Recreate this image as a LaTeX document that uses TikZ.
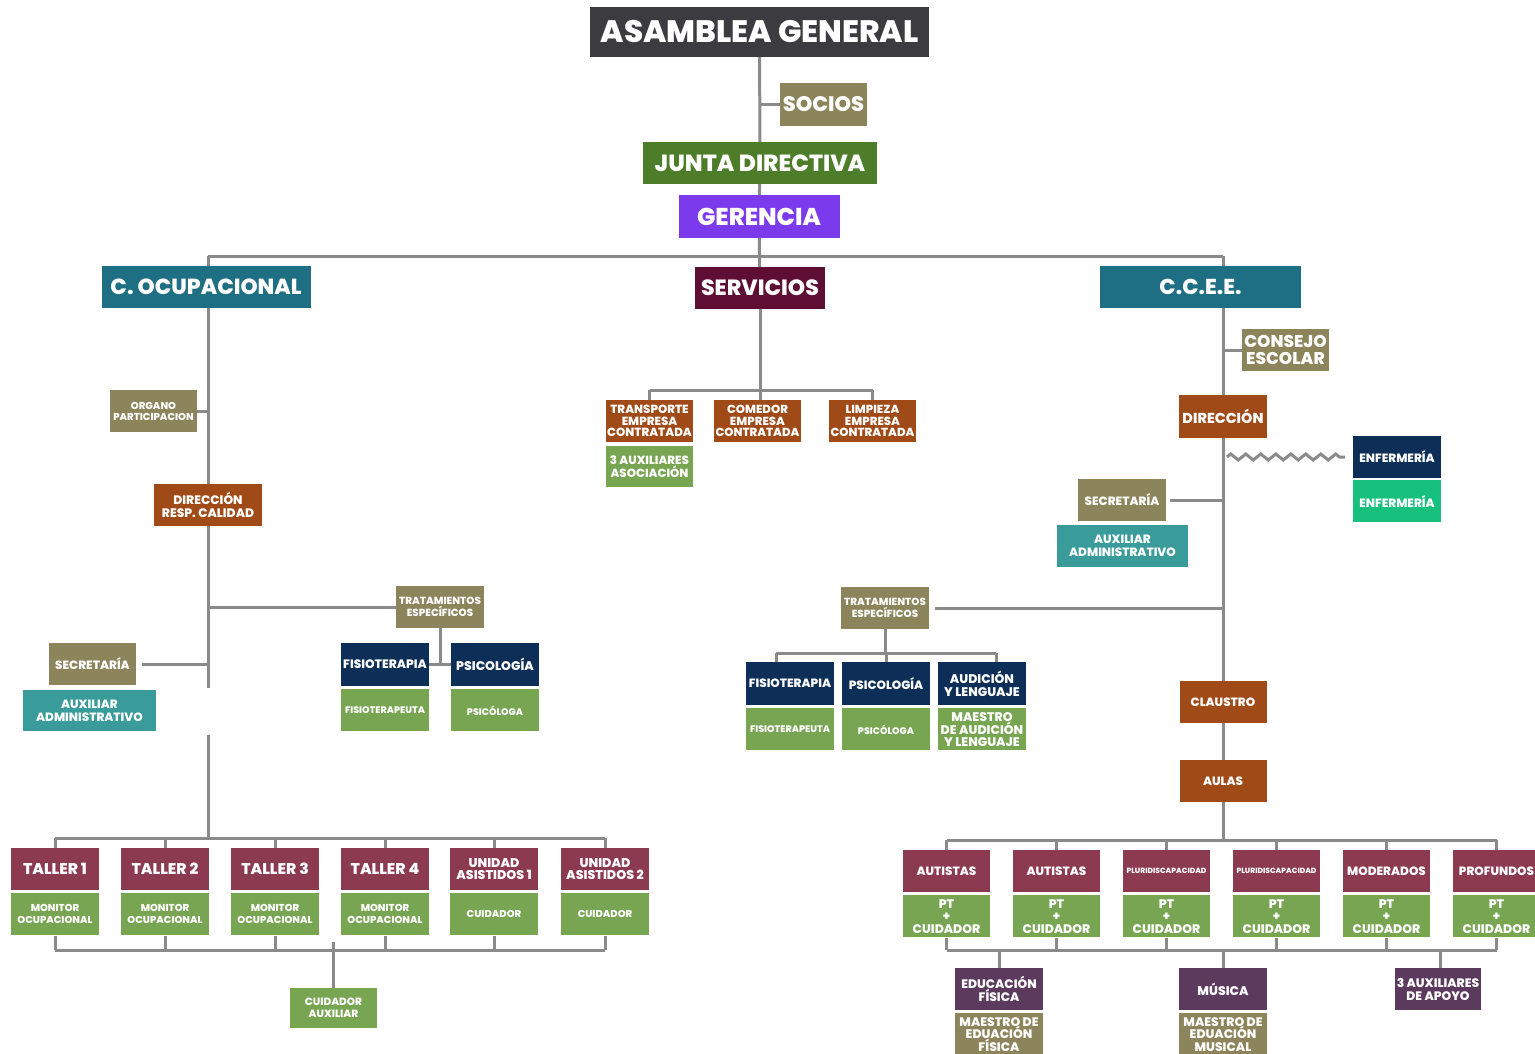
\documentclass[tikz,border=0pt]{standalone}
\usepackage{fontspec}
\setmainfont{Poppins}[BoldFont={* ExtraBold}]
\usetikzlibrary{positioning,decorations.pathmorphing}

\definecolor{cDark}{HTML}{3C3C40}
\definecolor{cOlive}{HTML}{8C845A}
\definecolor{cJunta}{HTML}{4E7D2A}
\definecolor{cPurple}{HTML}{7C3AED}
\definecolor{cTeal}{HTML}{1E6F83}
\definecolor{cWine}{HTML}{5E0E34}
\definecolor{cBrown}{HTML}{A04A17}
\definecolor{cGreen}{HTML}{78A552}
\definecolor{cNavy}{HTML}{0D2F57}
\definecolor{cAqua}{HTML}{3A9B9B}
\definecolor{cRed}{HTML}{8B3A4F}
\definecolor{cPlum}{HTML}{5C3A5E}
\definecolor{cMint}{HTML}{18C07D}
\definecolor{cLine}{HTML}{8A8A8A}

\newcommand\fsz[2]{\fontsize{#1}{#2}\selectfont}

\tikzset{
  box/.style={rectangle, inner sep=1pt, align=center, text=white,
    minimum width=88pt, minimum height=42pt, font=\bfseries\fsz{12}{13}},
  darkbox/.style={box, fill=cDark},
  olivebox/.style={box, fill=cOlive},
  juntabox/.style={box, fill=cJunta},
  purplebox/.style={box, fill=cPurple},
  tealbox/.style={box, fill=cTeal},
  winebox/.style={box, fill=cWine},
  brownbox/.style={box, fill=cBrown},
  greenbox/.style={box, fill=cGreen},
  navybox/.style={box, fill=cNavy},
  aquabox/.style={box, fill=cAqua},
  redbox/.style={box, fill=cRed},
  plumbox/.style={box, fill=cPlum},
  mintbox/.style={box, fill=cMint},
  link/.style={draw=cLine, line width=3pt},
  zig/.style={draw=cLine, line width=3pt,
    decorate, decoration={zigzag, segment length=15pt, amplitude=3pt}}
}

\begin{document}
\begin{tikzpicture}[x=1pt, y=-1pt]
  \useasboundingbox (0,0) rectangle (1535,1054);

  % top of the chart
  \node[darkbox, minimum width=339pt, minimum height=50pt, font=\bfseries\fsz{31}{32}] (asamblea) at (759.5,32) {ASAMBLEA GENERAL};
  \node[olivebox, minimum width=87pt, minimum height=43pt, font=\bfseries\fsz{21}{22}] (socios) at (823.5,104.5) {SOCIOS};
  \node[juntabox, minimum width=234pt, font=\bfseries\fsz{23.3}{24}] (junta) at (760,163) {JUNTA DIRECTIVA};
  \node[purplebox, minimum width=161pt, minimum height=43pt, font=\bfseries\fsz{24.3}{25}] (gerencia) at (759,216.5) {GERENCIA};

  \node[tealbox, minimum width=209pt, font=\bfseries\fsz{21.8}{22}] (ocup) at (206,287) {C. OCUPACIONAL};
  \node[winebox, minimum width=130pt, font=\bfseries\fsz{22}{22}] (servicios) at (760,288) {SERVICIOS};
  \node[tealbox, minimum width=201pt, font=\bfseries\fsz{21.5}{22}] (ccee) at (1200.5,287) {C.C.E.E.};

  \coordinate (barL) at (208,256);
  \coordinate (barR) at (1223,256);

  \draw[link] (asamblea) -- (junta);
  \draw[link] (socios.west) -- (socios.west -| asamblea.south);
  \draw[link] (junta) -- (gerencia);
  \draw[link] (gerencia) -- (servicios);
  \draw[link] (barL) -- (barR);
  \draw[link] (barL) -- (barL |- ocup.north);
  \draw[link] (barR) -- (barR |- ccee.north);

  % C. Ocupacional
  \node[olivebox, minimum width=87pt, font=\bfseries\fsz{10}{11}] (organo) at (153.5,411) {ORGANO\\PARTICIPACION};
  \node[brownbox, minimum width=108pt, font=\bfseries\fsz{12.3}{13}] (dirresp) at (208,505) {DIRECCIÓN\\RESP. CALIDAD};
  \node[olivebox, font=\bfseries\fsz{10.3}{12}] (tratL) at (440,607) {TRATAMIENTOS\\ESPECÍFICOS};
  \node[olivebox, minimum width=87pt] (secL) at (92.5,664) {SECRETARÍA};
  \node[aquabox, minimum width=133pt, minimum height=41pt] (auxL) at (89.5,710.5) {AUXILIAR\\ADMINISTRATIVO};
  \node[navybox, minimum height=43pt, font=\bfseries\fsz{12.2}{13}] (fisioL) at (385,664.5) {FISIOTERAPIA};
  \node[greenbox, font=\bfseries\fsz{9.5}{10}, below=3pt of fisioL] (terapL) {FISIOTERAPEUTA};
  \node[navybox, minimum height=43pt, font=\bfseries\fsz{12.5}{13}] (psicoL) at (495,664.5) {PSICOLOGÍA};
  \node[greenbox, font=\bfseries\fsz{9.5}{10}, below=3pt of psicoL] (logaL) {PSICÓLOGA};

  \coordinate (gapT) at (208,688);
  \coordinate (gapB) at (208,735);
  \coordinate (tbar) at (0,838);
  \coordinate (bbarL) at (0,950);

  \draw[link] (ocup.south -| barL) -- (dirresp.north);
  \draw[link] (organo.east) -- (organo.east -| barL);
  \draw[link] (dirresp.south) -- (gapT);
  \draw[link] (tratL.west) -- (tratL.west -| gapT);
  \draw[link] ([xshift=6pt]secL.east) -- (secL.east -| gapT);
  \draw[link] (tratL.south) -- (tratL.south |- fisioL.east);
  \draw[link] (fisioL.east) -- (psicoL.west);

  % talleres
  \foreach \n/\x/\t in {t1/55/TALLER 1, t2/165/TALLER 2, t3/275/TALLER 3, t4/385/TALLER 4}{
    \node[redbox, font=\bfseries\fsz{15.5}{16}] (\n) at (\x,869) {\t};
    \node[greenbox, font=\bfseries\fsz{10}{12}, below=3pt of \n] (m\n) {MONITOR\\OCUPACIONAL};
  }
  \node[redbox, font=\bfseries\fsz{12.7}{12}] (ua1) at (494,869) {UNIDAD\\ASISTIDOS 1};
  \node[greenbox, font=\bfseries\fsz{10}{12}, below=3pt of ua1] (mua1) {CUIDADOR};
  \node[redbox, font=\bfseries\fsz{12.7}{12}] (ua2) at (605,869) {UNIDAD\\ASISTIDOS 2};
  \node[greenbox, font=\bfseries\fsz{10}{12}, below=3pt of ua2] (mua2) {CUIDADOR};
  \node[greenbox, minimum width=87pt, minimum height=40pt, font=\bfseries\fsz{10.5}{12}] (cuidaux) at (333.5,1008) {CUIDADOR\\AUXILIAR};

  \draw[link] (gapB) -- (gapB |- tbar);
  \draw[link] (t1.north |- tbar) -- (ua2.north |- tbar);
  \draw[link] (mt1.south |- bbarL) -- (mua2.south |- bbarL);
  \foreach \n in {t1,t2,t3,t4,ua1,ua2}{
    \draw[link] (\n.north |- tbar) -- (\n.north);
    \draw[link] (m\n.south) -- (m\n.south |- bbarL);
  }
  \draw[link] ([yshift=8pt]cuidaux.north |- bbarL) -- (cuidaux.north);

  % servicios
  \node[brownbox, minimum width=87pt, font=\bfseries\fsz{11.8}{11.5}] (transp) at (649.5,421) {TRANSPORTE\\EMPRESA\\CONTRATADA};
  \node[greenbox, minimum width=87pt, minimum height=41pt, font=\bfseries\fsz{11.8}{11.5}, below=4pt of transp] (auxasoc) {3 AUXILIARES\\ASOCIACIÓN};
  \node[brownbox, minimum width=87pt, font=\bfseries\fsz{11.7}{11.5}] (comedor) at (757.5,421) {COMEDOR\\EMPRESA\\CONTRATADA};
  \node[brownbox, minimum width=87pt, font=\bfseries\fsz{11.7}{11.5}] (limp) at (872.5,421) {LIMPIEZA\\EMPRESA\\CONTRATADA};

  \coordinate (sbar) at (0,390);
  \draw[link] (servicios.south) -- (servicios.south |- comedor.north);
  \draw[link] (transp.north |- sbar) -- (limp.north |- sbar);
  \draw[link] (transp.north |- sbar) -- (transp.north);
  \draw[link] (limp.north |- sbar) -- (limp.north);

  % C.C.E.E.
  \node[olivebox, minimum width=87pt, font=\bfseries\fsz{17}{17}] (consejo) at (1285.5,350) {CONSEJO\\ESCOLAR};
  \node[brownbox, minimum height=43pt, font=\bfseries\fsz{14.4}{14}] (direc) at (1223,416.5) {DIRECCIÓN};
  \node[navybox] (enf1) at (1397,457) {ENFERMERÍA};
  \node[mintbox, below=2pt of enf1] (enf2) {ENFERMERÍA};
  \node[olivebox] (secR) at (1122,500) {SECRETARÍA};
  \node[aquabox, minimum width=131pt] (auxR) at (1122.5,546) {AUXILIAR\\ADMINISTRATIVO};
  \node[olivebox, font=\bfseries\fsz{10.3}{12}] (tratR) at (885,608) {TRATAMIENTOS\\ESPECÍFICOS};
  \node[navybox, minimum height=43pt] (fisioR) at (790,683.5) {FISIOTERAPIA};
  \node[greenbox, font=\bfseries\fsz{9.5}{10}, below=3pt of fisioR] (terapR) {FISIOTERAPEUTA};
  \node[navybox, minimum height=43pt] (psicoR) at (886,683.5) {PSICOLOGÍA};
  \node[greenbox, font=\bfseries\fsz{9.5}{10}, below=3pt of psicoR] (logaR) {PSICÓLOGA};
  \node[navybox, minimum height=43pt, font=\bfseries\fsz{12.5}{13}] (audR) at (982,683.5) {AUDICIÓN\\Y LENGUAJE};
  \node[greenbox, font=\bfseries\fsz{12.5}{12}, below=3pt of audR] (maeAud) {MAESTRO\\DE AUDICIÓN\\Y LENGUAJE};
  \node[brownbox, minimum width=87pt] (claustro) at (1223,702) {CLAUSTRO};
  \node[brownbox, minimum width=87pt] (aulas) at (1223,781) {AULAS};

  \coordinate (rbar) at (0,653);
  \draw[link] (ccee.south -| barR) -- (direc.north);
  \draw[link] (consejo.west) -- (consejo.west -| barR);
  \draw[link] (direc.south) -- (claustro.north);
  \draw[zig] ([xshift=4pt]direc.south |- enf1.west) -- ([xshift=-8pt]enf1.west);
  \draw[link] ([xshift=4pt]secR.east) -- (secR.east -| barR);
  \draw[link] ([xshift=6pt]tratR.east) -- (tratR.east -| barR);
  \draw[link] (tratR.south) -- (tratR.south |- rbar);
  \draw[link] ([xshift=-14pt]fisioR.north |- rbar) -- ([xshift=14pt]audR.north |- rbar);
  \draw[link] ([xshift=-14pt]fisioR.north |- rbar) -- ([xshift=-14pt]fisioR.north);
  \draw[link] (psicoR.north |- rbar) -- (psicoR.north);
  \draw[link] ([xshift=14pt]audR.north |- rbar) -- ([xshift=14pt]audR.north);
  \draw[link] (claustro) -- (aulas);

  % aulas
  \foreach \n/\x/\t/\f in {a1/946.5/AUTISTAS/12, a2/1056.5/AUTISTAS/12,
      a3/1166.5/PLURIDISCAPACIDAD/7.5, a4/1276.5/PLURIDISCAPACIDAD/7.5,
      a5/1386.5/MODERADOS/12, a6/1496.5/PROFUNDOS/12}{
    \node[redbox, minimum width=87pt, font=\bfseries\fsz{\f}{12}] (\n) at (\x,871) {\t};
    \node[greenbox, minimum width=87pt, font=\bfseries\fsz{12.4}{12.5}, below=3pt of \n] (p\n) {PT\\+\\CUIDADOR};
  }
  \node[plumbox, font=\bfseries\fsz{12.3}{13}] (edfis) at (999,989) {EDUCACIÓN\\FÍSICA};
  \node[olivebox, font=\bfseries\fsz{12.4}{12.5}, below=3pt of edfis] (maeFis) {MAESTRO DE\\EDUACIÓN\\FÍSICA};
  \node[plumbox, font=\bfseries\fsz{12.5}{13}] (musica) at (1223,989) {MÚSICA};
  \node[olivebox, font=\bfseries\fsz{12.4}{12.5}, below=3pt of musica] (maeMus) {MAESTRO DE\\EDUACIÓN\\MUSICAL};
  \node[plumbox, minimum width=86pt, font=\bfseries\fsz{12.3}{13}] (apoyo) at (1438,989) {3 AUXILIARES\\DE APOYO};

  \coordinate (abar) at (0,840);
  \coordinate (bbarR) at (0,950);
  \draw[link] (aulas.south) -- (aulas.south |- abar);
  \draw[link] (a1.north |- abar) -- (a6.north |- abar);
  \draw[link] (pa1.south |- bbarR) -- (pa6.south |- bbarR);
  \foreach \n in {a1,a2,a3,a4,a5,a6}{
    \draw[link] (\n.north |- abar) -- (\n.north);
    \draw[link] (p\n.south) -- (p\n.south |- bbarR);
  }
  \draw[link] (edfis.north |- bbarR) -- (edfis.north);
  \draw[link] (musica.north |- bbarR) -- (musica.north);
  \draw[link] ([xshift=2pt]apoyo.north |- bbarR) -- ([xshift=2pt]apoyo.north);
\end{tikzpicture}
\end{document}
